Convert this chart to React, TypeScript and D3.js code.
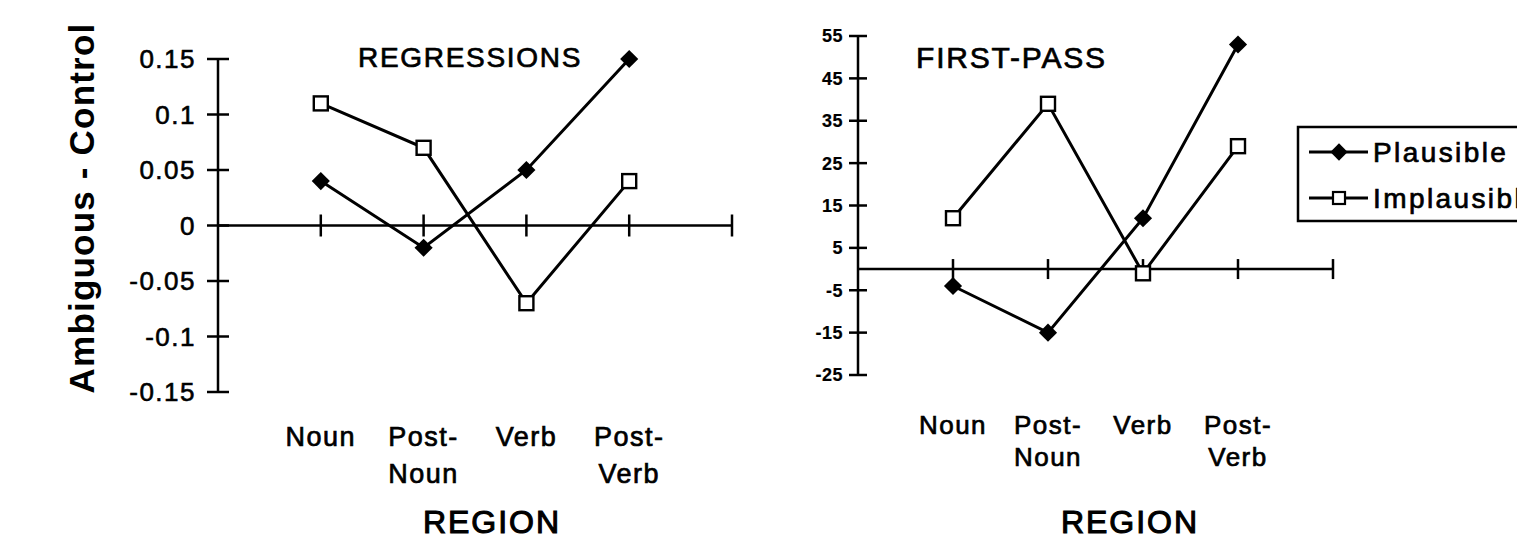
import React, { useEffect, useRef } from "react";
import * as d3 from "d3";

// x categories (second entry is the wrapped line)
const regionLabels = [["Noun"], ["Post-", "Noun"], ["Verb"], ["Post-", "Verb"]];
const seriesNames = ["Plausible", "Implausible"];

// Regressions panel (Ambiguous - Control)
const regPlausible = [0.04, -0.02, 0.05, 0.15];
const regImplausible = [0.11, 0.07, -0.07, 0.04];
const regTicks = [0.15, 0.1, 0.05, 0, -0.05, -0.1, -0.15];

// First-pass panel
const fpPlausible = [-4, -15, 12, 53];
const fpImplausible = [12, 39, -1, 29];
const fpTicks = [55, 45, 35, 25, 15, 5, -5, -15, -25];

const FONT = "'Liberation Sans', Arial, sans-serif";

// the scanned text is a bit heavier than a plain regular weight
function heavy(sel, w = 0.7) {
    return sel.attr("stroke", "#000").attr("stroke-width", w).attr("paint-order", "stroke");
}

function drawPanel(g, cfg) {
    const x = d3.scaleLinear().domain([0, 5]).range([cfg.x0, cfg.x1]);
    const y = d3.scaleLinear().domain(cfg.domain).range([cfg.y0, cfg.y1]);
    const ax = x(0);

    // y axis
    g.append("line")
        .attr("x1", ax).attr("x2", ax)
        .attr("y1", y(cfg.domain[0])).attr("y2", y(cfg.domain[1]))
        .attr("stroke", "#000").attr("stroke-width", 2.5);

    cfg.ticks.forEach(t => {
        g.append("line")
            .attr("x1", ax - cfg.tick).attr("x2", ax + cfg.tick)
            .attr("y1", y(t)).attr("y2", y(t))
            .attr("stroke", "#000").attr("stroke-width", 2.5);
        heavy(g.append("text")
            .attr("x", ax - cfg.labelGap).attr("y", y(t)).attr("dy", "0.36em")
            .attr("text-anchor", "end")
            .attr("font-family", FONT)
            .attr("font-size", cfg.tickFont)
            .attr("font-weight", cfg.tickWeight)
            .attr("letter-spacing", cfg.tickSpacing)
            .text(String(t)), cfg.tickWeight === 700 ? 0.2 : 0.6);
    });

    // x axis at zero
    g.append("line")
        .attr("x1", ax).attr("x2", x(5))
        .attr("y1", y(0)).attr("y2", y(0))
        .attr("stroke", "#000").attr("stroke-width", 2.5);
    d3.range(1, 6).forEach(i => {
        g.append("line")
            .attr("x1", x(i)).attr("x2", x(i))
            .attr("y1", y(0) - cfg.xTick).attr("y2", y(0) + cfg.xTick)
            .attr("stroke", "#000").attr("stroke-width", 2.5);
    });

    regionLabels.forEach((lines, i) => {
        const t = heavy(g.append("text")
            .attr("text-anchor", "middle")
            .attr("font-family", FONT)
            .attr("font-size", cfg.catFont)
            .attr("letter-spacing", 1.5));
        lines.forEach((s, k) => {
            t.append("tspan")
                .attr("x", x(i + 1))
                .attr("y", cfg.catY + k * cfg.catGap)
                .text(s);
        });
    });

    const line = d3.line().x((d, i) => x(i + 1)).y(d => y(d));
    [cfg.plausible, cfg.implausible].forEach(vals => {
        g.append("path")
            .attr("d", line(vals))
            .attr("fill", "none")
            .attr("stroke", "#000")
            .attr("stroke-width", 3);
    });

    // plausible: filled diamonds
    g.selectAll(null)
        .data(cfg.plausible)
        .enter()
        .append("path")
        .attr("d", d3.symbol().type(d3.symbolDiamond2).size(210)())
        .attr("transform", (d, i) => `translate(${x(i + 1)},${y(d)})`)
        .attr("fill", "#000");

    // implausible: open squares
    g.selectAll(null)
        .data(cfg.implausible)
        .enter()
        .append("rect")
        .attr("x", (d, i) => x(i + 1) - 7)
        .attr("y", d => y(d) - 7)
        .attr("width", 14).attr("height", 14)
        .attr("fill", "#fff")
        .attr("stroke", "#000")
        .attr("stroke-width", 2.4);

    heavy(g.append("text")
        .attr("x", cfg.titleX).attr("y", cfg.titleY)
        .attr("font-family", FONT)
        .attr("font-size", cfg.titleFont)
        .attr("letter-spacing", cfg.titleSpacing)
        .text(cfg.title));

    heavy(g.append("text")
        .attr("x", cfg.regionX).attr("y", 533)
        .attr("text-anchor", "middle")
        .attr("font-family", FONT)
        .attr("font-size", 32)
        .attr("letter-spacing", 2)
        .text("REGION"), 1.1);
}

const App = () => {
    const ref = useRef(null);

    useEffect(() => {
        const svg = d3.select(ref.current);
        svg.selectAll("*").remove();

        drawPanel(svg.append("g"), {
            x0: 218, x1: 732, y0: 392, y1: 59,
            domain: [-0.15, 0.15], ticks: regTicks,
            tick: 11, xTick: 11, labelGap: 22,
            tickFont: 26, tickWeight: 400, tickSpacing: 1.5,
            catFont: 27, catY: 446, catGap: 37,
            plausible: regPlausible, implausible: regImplausible,
            title: "REGRESSIONS", titleX: 358, titleY: 67, titleFont: 28, titleSpacing: 1.7,
            regionX: 492,
        });

        drawPanel(svg.append("g"), {
            x0: 858, x1: 1333, y0: 375, y1: 36,
            domain: [-25, 55], ticks: fpTicks,
            tick: 9, xTick: 10, labelGap: 15,
            tickFont: 18, tickWeight: 700, tickSpacing: 0.5,
            catFont: 26, catY: 434, catGap: 32,
            plausible: fpPlausible, implausible: fpImplausible,
            title: "FIRST-PASS", titleX: 916, titleY: 68, titleFont: 30, titleSpacing: 1.8,
            regionX: 1130,
        });

        // y axis title
        svg.append("text")
            .attr("transform", "translate(94,208) rotate(-90)")
            .attr("text-anchor", "middle")
            .attr("font-family", FONT)
            .attr("font-size", 35)
            .attr("font-weight", 700)
            .attr("letter-spacing", 1.2)
            .text("Ambiguous - Control");

        // legend
        const lg = svg.append("g");
        lg.append("rect")
            .attr("x", 1298).attr("y", 127)
            .attr("width", 260).attr("height", 94)
            .attr("fill", "#fff")
            .attr("stroke", "#000")
            .attr("stroke-width", 2.5);
        seriesNames.forEach((name, i) => {
            const cy = 152 + i * 46;
            lg.append("line")
                .attr("x1", 1309).attr("x2", 1368)
                .attr("y1", cy).attr("y2", cy)
                .attr("stroke", "#000").attr("stroke-width", 3);
            if (i === 0) {
                lg.append("path")
                    .attr("d", d3.symbol().type(d3.symbolDiamond2).size(190)())
                    .attr("transform", `translate(1339,${cy})`)
                    .attr("fill", "#000");
            } else {
                lg.append("rect")
                    .attr("x", 1333).attr("y", cy - 6)
                    .attr("width", 12).attr("height", 12)
                    .attr("fill", "#fff").attr("stroke", "#000").attr("stroke-width", 2.2);
            }
            heavy(lg.append("text")
                .attr("x", 1373).attr("y", cy).attr("dy", "0.36em")
                .attr("font-family", FONT)
                .attr("font-size", 28)
                .attr("letter-spacing", 2.4)
                .text(name));
        });
    }, []);

    return (
        <svg
            ref={ref}
            width={1517}
            height={542}
            style={{ position: "absolute", left: 0, top: 0, background: "#fff" }}
        ></svg>
    );
};

export default App;
